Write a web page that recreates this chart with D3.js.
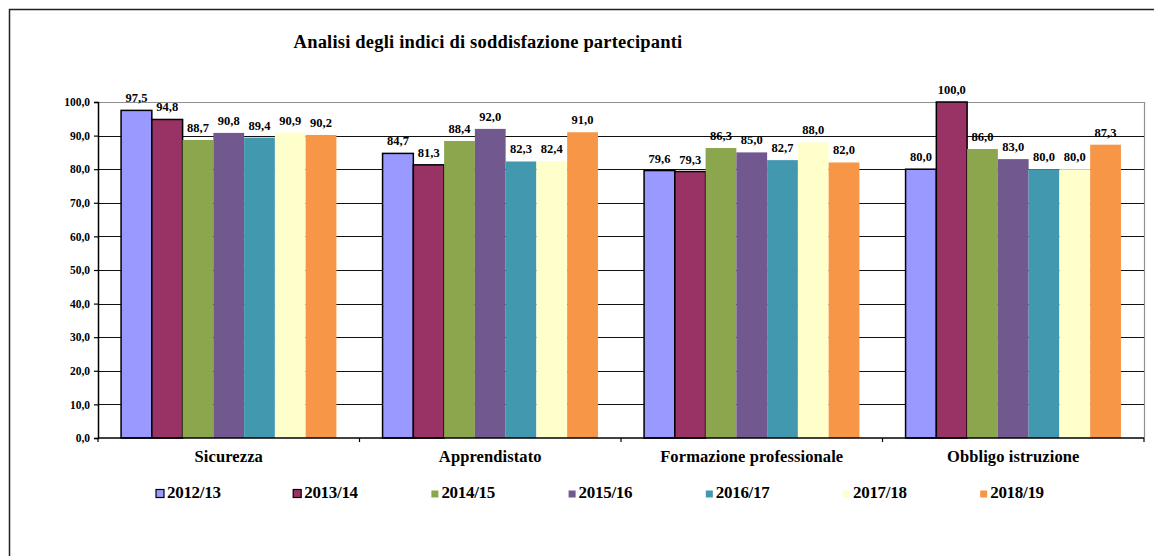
<!DOCTYPE html>
<html>
<head>
<meta charset="utf-8">
<script src="https://cdn.jsdelivr.net/npm/d3@7"></script>
<style>
  html, body { margin: 0; padding: 0; background: #fff; }
  svg { display: block; }
</style>
</head>
<body>
<svg id="chart" width="1154" height="556"></svg>
<script>
const title = "Analisi degli indici di soddisfazione partecipanti";
const categories = ["Sicurezza", "Apprendistato", "Formazione professionale", "Obbligo istruzione"];
const seriesNames = ["2012/13", "2013/14", "2014/15", "2015/16", "2016/17", "2017/18", "2018/19"];
const s2012 = [97.5, 84.7, 79.6, 80.0];
const s2013 = [94.8, 81.3, 79.3, 100.0];
const s2014 = [88.7, 88.4, 86.3, 86.0];
const s2015 = [90.8, 92.0, 85.0, 83.0];
const s2016 = [89.4, 82.3, 82.7, 80.0];
const s2017 = [90.9, 82.4, 88.0, 80.0];
const s2018 = [90.2, 91.0, 82.0, 87.3];
const seriesValues = [s2012, s2013, s2014, s2015, s2016, s2017, s2018];
const yTicks = [0, 10, 20, 30, 40, 50, 60, 70, 80, 90, 100];

const colors = ["#9999FF", "#993366", "#8BA64D", "#71588F", "#4198AF", "#FFFFCC", "#F79646"];
const outlined = [true, true, false, false, false, false, false];
const FONT = "'Liberation Serif', Tinos, 'Times New Roman', Times, serif";

const svg = d3.select("#chart");

// outer frame
svg.append("rect").attr("x", 9.5).attr("y", 9.5).attr("width", 1160).attr("height", 560)
  .attr("fill", "none").attr("stroke", "#222").attr("stroke-width", 1.5);

const plot = { left: 98, right: 1144, top: 102, bottom: 438 };

const x0 = d3.scaleBand().domain(categories).range([plot.left, plot.right]).padding(0);
const x1 = d3.scaleBand().domain(seriesNames).range([0, x0.bandwidth()]).paddingInner(0).paddingOuter(0.75);
const y = d3.scaleLinear().domain([0, 100]).range([plot.bottom, plot.top]);

const fmt = v => v.toFixed(1).replace(".", ",");

// plot border (top/right gray)
svg.append("line").attr("x1", plot.left).attr("x2", plot.right).attr("y1", plot.top + 0.5).attr("y2", plot.top + 0.5)
  .attr("stroke", "#909090").attr("stroke-width", 1.2);
svg.append("line").attr("x1", plot.right + 0.5).attr("x2", plot.right + 0.5).attr("y1", plot.top).attr("y2", plot.bottom)
  .attr("stroke", "#909090").attr("stroke-width", 1.2);

// gridlines
svg.append("g").selectAll("line").data(yTicks.filter(t => t > 0 && t < 100)).join("line")
  .attr("x1", plot.left).attr("x2", plot.right)
  .attr("y1", d => Math.round(y(d)) + 0.5).attr("y2", d => Math.round(y(d)) + 0.5)
  .attr("stroke", "#111").attr("stroke-width", 1.2);

// bars
const groups = svg.append("g").selectAll("g").data(categories).join("g")
  .attr("transform", d => `translate(${x0(d)},0)`);

groups.each(function(cat, ci) {
  const g = d3.select(this);
  seriesNames.forEach((s, si) => {
    const v = seriesValues[si][ci];
    g.append("rect")
      .attr("x", x1(s))
      .attr("y", y(v))
      .attr("width", x1.bandwidth())
      .attr("height", y(0) - y(v))
      .attr("fill", colors[si])
      .attr("stroke", outlined[si] ? "#000" : "none")
      .attr("stroke-width", outlined[si] ? 1.5 : 0);
    g.append("text")
      .attr("x", x1(s) + x1.bandwidth() / 2)
      .attr("y", y(v) - 8)
      .attr("text-anchor", "middle")
      .attr("font-family", FONT)
      .attr("font-weight", "bold")
      .attr("font-size", 12.5)
      .text(fmt(v));
  });
});

// y axis
const yAxis = d3.axisLeft(y).tickValues(yTicks).tickSize(4).tickPadding(4).tickFormat(fmt);
const yg = svg.append("g").attr("transform", `translate(${plot.left},0)`).call(yAxis)
  .attr("font-family", FONT);
yg.select(".domain").attr("stroke", "#000").attr("stroke-width", 1.5);
yg.selectAll(".tick line").attr("stroke", "#000").attr("stroke-width", 1.2);
yg.selectAll(".tick text").attr("font-size", 11.5).attr("font-family", FONT).attr("font-weight", "bold").attr("fill", "#000");

// x axis
const xg = svg.append("g").attr("transform", `translate(0,${plot.bottom})`);
xg.append("line").attr("x1", plot.left).attr("x2", plot.right).attr("y1", 0).attr("y2", 0)
  .attr("stroke", "#000").attr("stroke-width", 1.5);
const bounds = categories.map(c => x0(c)).concat([plot.right]);
xg.selectAll("line.tk").data(bounds).join("line").attr("class", "tk")
  .attr("x1", d => d).attr("x2", d => d).attr("y1", 0).attr("y2", 4)
  .attr("stroke", "#000").attr("stroke-width", 1.2);
xg.selectAll("text").data(categories).join("text")
  .attr("x", d => x0(d) + x0.bandwidth() / 2)
  .attr("y", 23.5)
  .attr("text-anchor", "middle")
  .attr("font-family", FONT)
  .attr("font-weight", "bold")
  .attr("font-size", 16.5)
  .attr("letter-spacing", 0.1)
  .text(d => d);

// title
svg.append("text").attr("x", 488).attr("y", 48).attr("text-anchor", "middle")
  .attr("font-family", FONT)
  .attr("font-weight", "bold")
  .attr("font-size", 18.5)
  .attr("letter-spacing", 0.2)
  .text(title);

// legend
const lg = svg.append("g").selectAll("g").data(seriesNames).join("g")
  .attr("transform", (d, i) => `translate(${156 + i * 137.2},0)`);
lg.append("rect")
  .attr("x", (d, i) => outlined[i] ? 0 : 1)
  .attr("y", (d, i) => outlined[i] ? 489.5 : 490.5)
  .attr("width", (d, i) => outlined[i] ? 8 : 7)
  .attr("height", (d, i) => outlined[i] ? 8 : 7)
  .attr("fill", (d, i) => colors[i])
  .attr("stroke", (d, i) => outlined[i] ? "#000" : "none")
  .attr("stroke-width", 1.2);
lg.append("text").attr("x", 11).attr("y", 498).attr("font-size", 17).attr("letter-spacing", -0.3)
  .attr("font-family", FONT)
  .attr("font-weight", "bold")
  .text(d => d);
</script>
</body>
</html>
